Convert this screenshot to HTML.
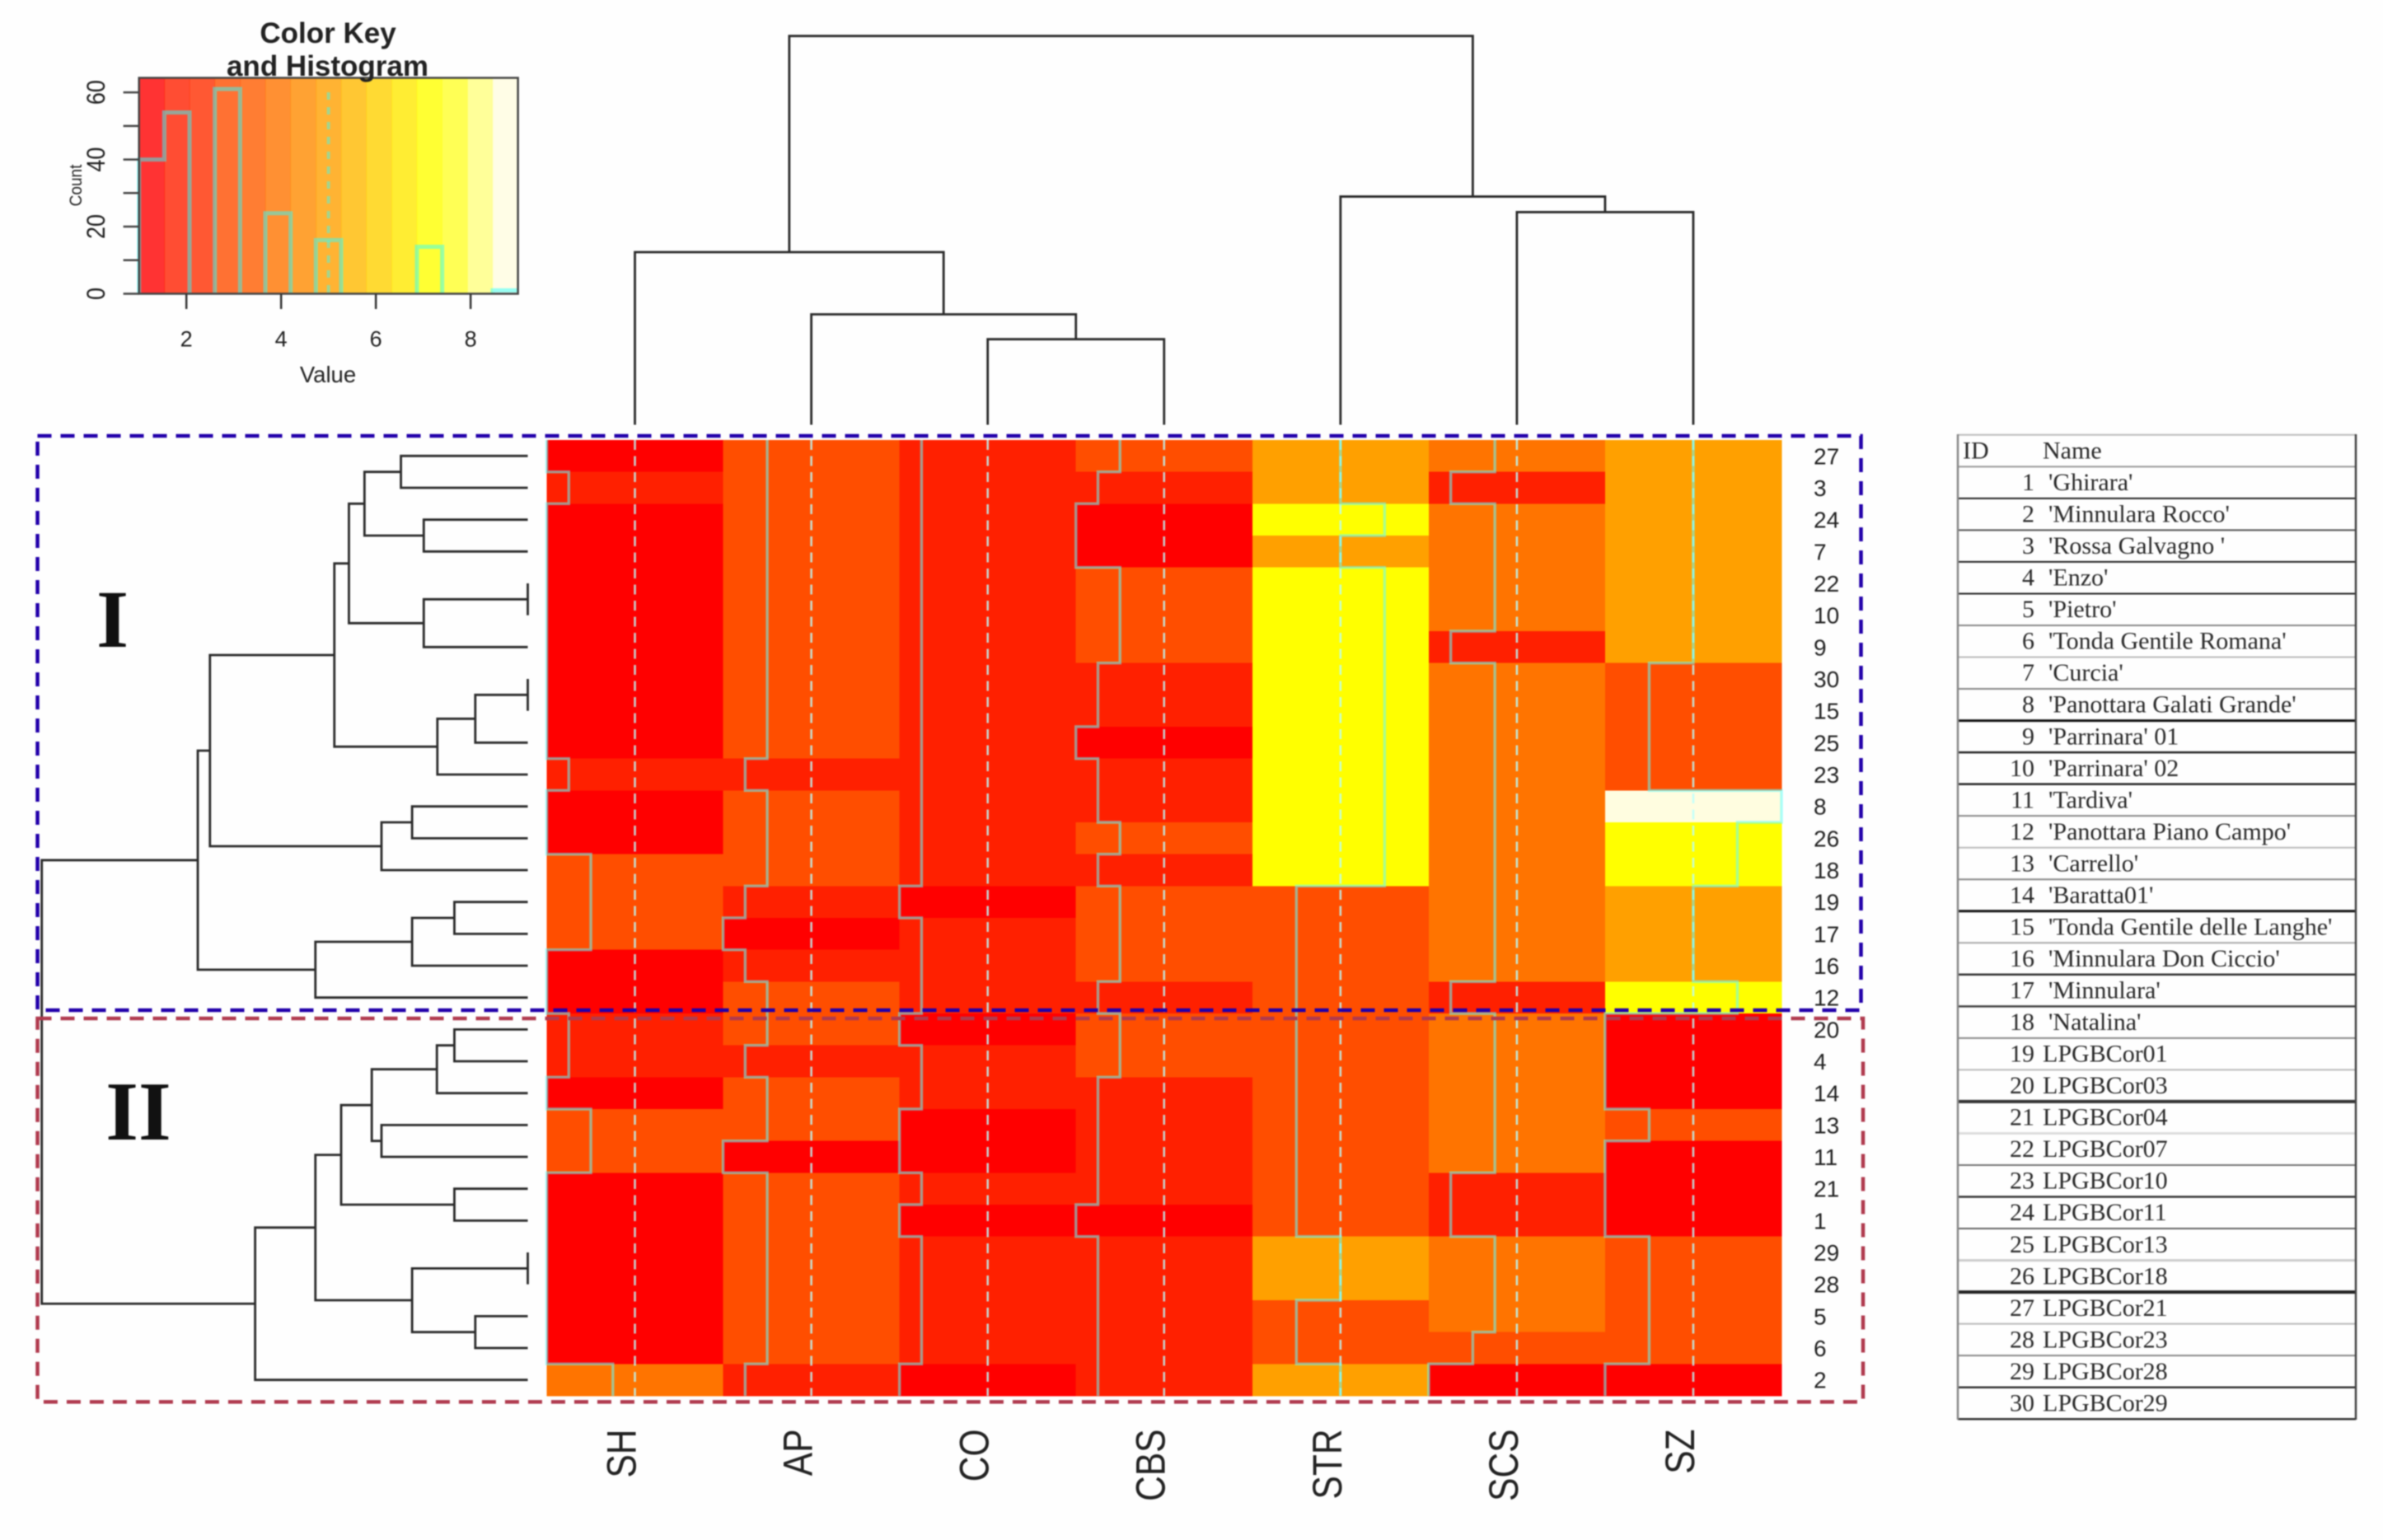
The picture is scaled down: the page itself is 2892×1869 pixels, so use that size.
<!DOCTYPE html>
<html lang="en">
<head>
<meta charset="utf-8">
<title>Heatmap with dendrograms</title>
<style>
html,body{margin:0;padding:0;background:#fefefe;width:2892px;height:1869px;overflow:hidden}
svg{position:absolute;left:0;top:0;filter:blur(0.8px)}
text{font-family:"Liberation Sans",sans-serif;fill:#222}
.tbl{font-family:"Liberation Serif",serif;font-size:30px;fill:#2a2a2a}
.tid{text-anchor:end}
</style>
</head>
<body>
<svg id="chart" width="2892" height="1869" viewBox="0 0 2892 1869" xmlns="http://www.w3.org/2000/svg">
<g id="key"></g>
<text x="398" y="52" text-anchor="middle" font-weight="700" font-size="35">Color Key</text>
<text x="397.5" y="92" text-anchor="middle" font-weight="700" font-size="35">and Histogram</text>
<text x="398" y="464" text-anchor="middle" font-size="27.5">Value</text>
<text transform="translate(99,225) rotate(-90) scale(1,1.1)" text-anchor="middle" font-size="19">Count</text>
<g id="colDendro"></g>
<g id="rowDendro"></g>
<g id="cells" shape-rendering="crispEdges"></g>
<g id="traces"></g>
<g id="rowLabels"></g>
<g id="colLabels"></g>
<rect x="45.5" y="1236" width="2215.5" height="465.4" fill="none" stroke="#b03a4e" stroke-width="4.5" stroke-dasharray="17 11"/>
<rect x="45.5" y="529" width="2213" height="697" fill="none" stroke="#2200aa" stroke-width="4.5" stroke-dasharray="17 11"/>
<text x="136.6" y="785" text-anchor="middle" font-size="100" font-weight="700" style="font-family:'Liberation Serif',serif;fill:#111">I</text>
<text x="168" y="1383" text-anchor="middle" font-size="102" font-weight="700" style="font-family:'Liberation Serif',serif;fill:#111">II</text>
<g id="tableLines"></g>
<g>
<text class="tbl" x="2382" y="556.5">ID</text>
<text class="tbl" x="2479" y="556.5">Name</text>
<text class="tbl tid" x="2469" y="595">1</text><text class="tbl" x="2486" y="595">'Ghirara'</text>
<text class="tbl tid" x="2469" y="633.6">2</text><text class="tbl" x="2486" y="633.6">'Minnulara Rocco'</text>
<text class="tbl tid" x="2469" y="672.1">3</text><text class="tbl" x="2486" y="672.1">'Rossa Galvagno '</text>
<text class="tbl tid" x="2469" y="710.6">4</text><text class="tbl" x="2486" y="710.6">'Enzo'</text>
<text class="tbl tid" x="2469" y="749.2">5</text><text class="tbl" x="2486" y="749.2">'Pietro'</text>
<text class="tbl tid" x="2469" y="787.7">6</text><text class="tbl" x="2486" y="787.7">'Tonda Gentile Romana'</text>
<text class="tbl tid" x="2469" y="826.2">7</text><text class="tbl" x="2486" y="826.2">'Curcia'</text>
<text class="tbl tid" x="2469" y="864.7">8</text><text class="tbl" x="2486" y="864.7">'Panottara Galati Grande'</text>
<text class="tbl tid" x="2469" y="903.3">9</text><text class="tbl" x="2486" y="903.3">'Parrinara' 01</text>
<text class="tbl tid" x="2469" y="941.8">10</text><text class="tbl" x="2486" y="941.8">'Parrinara' 02</text>
<text class="tbl tid" x="2469" y="980.3">11</text><text class="tbl" x="2486" y="980.3">'Tardiva'</text>
<text class="tbl tid" x="2469" y="1018.9">12</text><text class="tbl" x="2486" y="1018.9">'Panottara Piano Campo'</text>
<text class="tbl tid" x="2469" y="1057.4">13</text><text class="tbl" x="2486" y="1057.4">'Carrello'</text>
<text class="tbl tid" x="2469" y="1095.9">14</text><text class="tbl" x="2486" y="1095.9">'Baratta01'</text>
<text class="tbl tid" x="2469" y="1134.5">15</text><text class="tbl" x="2486" y="1134.5">'Tonda Gentile delle Langhe'</text>
<text class="tbl tid" x="2469" y="1173">16</text><text class="tbl" x="2486" y="1173">'Minnulara Don Ciccio'</text>
<text class="tbl tid" x="2469" y="1211.5">17</text><text class="tbl" x="2486" y="1211.5">'Minnulara'</text>
<text class="tbl tid" x="2469" y="1250">18</text><text class="tbl" x="2486" y="1250">'Natalina'</text>
<text class="tbl tid" x="2469" y="1288.6">19</text><text class="tbl" x="2479" y="1288.6">LPGBCor01</text>
<text class="tbl tid" x="2469" y="1327.1">20</text><text class="tbl" x="2479" y="1327.1">LPGBCor03</text>
<text class="tbl tid" x="2469" y="1365.6">21</text><text class="tbl" x="2479" y="1365.6">LPGBCor04</text>
<text class="tbl tid" x="2469" y="1404.2">22</text><text class="tbl" x="2479" y="1404.2">LPGBCor07</text>
<text class="tbl tid" x="2469" y="1442.7">23</text><text class="tbl" x="2479" y="1442.7">LPGBCor10</text>
<text class="tbl tid" x="2469" y="1481.2">24</text><text class="tbl" x="2479" y="1481.2">LPGBCor11</text>
<text class="tbl tid" x="2469" y="1519.8">25</text><text class="tbl" x="2479" y="1519.8">LPGBCor13</text>
<text class="tbl tid" x="2469" y="1558.3">26</text><text class="tbl" x="2479" y="1558.3">LPGBCor18</text>
<text class="tbl tid" x="2469" y="1596.8">27</text><text class="tbl" x="2479" y="1596.8">LPGBCor21</text>
<text class="tbl tid" x="2469" y="1635.3">28</text><text class="tbl" x="2479" y="1635.3">LPGBCor23</text>
<text class="tbl tid" x="2469" y="1673.9">29</text><text class="tbl" x="2479" y="1673.9">LPGBCor28</text>
<text class="tbl tid" x="2469" y="1712.4">30</text><text class="tbl" x="2479" y="1712.4">LPGBCor29</text>
</g>
</svg>
<script>
// ---- data ----
const columnNames = ['SH','AP','CO','CBS','STR','SCS','SZ'];
const rowNames = [27,3,24,7,22,10,9,30,15,25,23,8,26,18,19,17,16,12,20,4,14,13,11,21,1,29,28,5,6,2];
const valuesSH  = [1,2,1,1,1,1,1,1,1,1,2,1,1,3,3,3,1,1,2,2,1,3,3,1,1,1,1,1,1,4];
const valuesAP  = [3,3,3,3,3,3,3,3,3,3,2,3,3,3,2,1,2,3,3,2,3,3,1,3,3,3,3,3,3,2];
const valuesCO  = [2,2,2,2,2,2,2,2,2,2,2,2,2,2,1,2,2,2,1,2,2,1,1,2,1,2,2,2,2,1];
const valuesCBS = [3,2,1,1,3,3,3,2,2,1,2,2,3,2,3,3,3,2,3,3,2,2,2,2,1,2,2,2,2,2];
const valuesSTR = [5,5,7,5,7,7,7,7,7,7,7,7,7,7,3,3,3,3,3,3,3,3,3,3,3,5,5,3,3,5];
const valuesSCS = [4,2,4,4,4,4,2,4,4,4,4,4,4,4,4,4,4,2,4,4,4,4,4,2,2,4,4,4,3,1];
const valuesSZ  = [5,5,5,5,5,5,5,3,3,3,3,9,7,7,5,5,5,7,1,1,1,3,1,1,1,3,3,3,3,1];
const histCounts = [40,54,0,61,0,24,0,16,0,0,0,14,0,0,1];
const keyXTicks = [2,4,6,8];
const keyYTicks = [0,10,20,30,40,50,60];
const keyYLabels = [0,20,40,60];
const valueMin = 1;
const valueMax = 9;
const traceCenterValue = 5;
// Dendrogram merges: negative = leaf position, positive = earlier merge number
const colMergeLeft   = [-3,-2,-1,-6,-5,3];
const colMergeRight  = [-4,1,2,-7,4,5];
const colMergeHeight = [22.0,28.4,44.4,54.7,58.7,100];
const rowMergeLeft   = [-1,-3,1,-5,4,3,-8,7,8,6,-12,11,10,-15,14,15,13,-19,18,-22,19,-24,21,-26,-28,24,23,27,17];
const rowMergeRight  = [-2,-4,2,-6,-7,5,-9,-10,-11,9,-13,-14,12,-16,-17,-18,16,-20,-21,-23,20,-25,22,-27,-29,25,26,-30,28];
const rowMergeHeight = [26.1,21.4,33.6,0,21.4,36.8,0,10.8,18.6,39.8,23.8,30.1,65.4,15.1,23.8,43.7,67.9,15.1,18.7,30.1,32.1,15.1,38.4,0,10.8,23.8,43.7,56.1,100];

// ---- scales & helpers ----
const columnValues = [valuesSH,valuesAP,valuesCO,valuesCBS,valuesSTR,valuesSCS,valuesSZ];
const NS = 'http://www.w3.org/2000/svg';
const palette = ['#ff0000','#ff2000','#ff2e00','#ff4e00','#ff5d00','#ff7400','#ff8b00','#ffa000','#ffb900','#ffd100','#ffe800','#ffff00','#ffff2a','#ffff80','#fffde0'];
const hmLeft = 663.5, hmTop = 534, colW = 214.07, rowH = 38.667;
const colX = i => hmLeft + colW * i;
const colC = i => colX(i) + colW / 2;
const rowY = i => hmTop + rowH * i;
const rowC = i => rowY(i) + rowH / 2;
const scale01 = v => (v - valueMin) / (valueMax - valueMin);
const band = v => Math.min(palette.length - 1, Math.floor(scale01(v) * palette.length));
const keyX = v => 168.7 + (v - valueMin) * 57.49;
const keyY = c => 356.5 - c * 4.073;
const colDendroY = h => 515.5 - h * 4.718;
const rowDendroX = h => 640.5 - h * 5.898;
function make(tag, attrs, parent, txt) {
  const el = document.createElementNS(NS, tag);
  for (const k in attrs) el.setAttribute(k, attrs[k]);
  if (txt !== undefined) el.textContent = txt;
  parent.appendChild(el);
  return el;
}
const $ = id => document.getElementById(id);

// ---- colour key ----
const keyG = $('key');
palette.forEach((c, k) => {
  const w = (valueMax - valueMin) / palette.length;
  const r = make('rect', {x: keyX(valueMin + k * w), y: 94.5, width: keyX(valueMin + (k + 1) * w) - keyX(valueMin + k * w) + 0.5, height: 262, fill: c, 'fill-opacity': 0.8, 'shape-rendering': 'crispEdges'}, keyG);
  
  
});
let hd = '';
let penDown = false;
histCounts.forEach((c, k) => {
  const w = (valueMax - valueMin) / histCounts.length;
  const x0 = keyX(valueMin + k * w), x1 = keyX(valueMin + (k + 1) * w), y = keyY(c);
  if (c > 0) {
    hd += (penDown ? 'L' : 'M') + x0 + ' ' + (penDown ? y : keyY(0)) + ' ';
    if (!penDown) hd += 'L' + x0 + ' ' + y + ' ';
    hd += 'L' + x1 + ' ' + y + ' ';
    penDown = true;
  } else if (penDown) {
    hd += 'L' + x0 + ' ' + y + ' ';
    penDown = false;
  }
});
const histLine = make('path', {d: hd, fill: 'none', stroke: '#30ffff', 'stroke-opacity': 0.5, 'stroke-width': 5}, keyG);


const keyMid = make('line', {x1: keyX(traceCenterValue), x2: keyX(traceCenterValue), y1: 112, y2: 356.5, stroke: '#30ffff', 'stroke-opacity': 0.45, 'stroke-width': 4, 'stroke-dasharray': '9 9'}, keyG);


const keyFrame = make('rect', {x: 168.7, y: 94.5, width: 459.9, height: 262, fill: 'none', stroke: '#444', 'stroke-width': 2.5}, keyG);


keyXTicks.forEach(v => {
  const t = make('line', {x1: keyX(v), x2: keyX(v), y1: 356.5, y2: 375, stroke: '#333', 'stroke-width': 2.5}, keyG);
  
  
  const l = make('text', {x: keyX(v), y: 420.5, 'text-anchor': 'middle', 'font-size': 27}, keyG, v);
  
  
});
keyYTicks.forEach(c => {
  const t = make('line', {x1: 149.6, x2: 168.7, y1: keyY(c), y2: keyY(c), stroke: '#444', 'stroke-width': 2.5}, keyG);
  
  
});
keyYLabels.forEach(c => {
  const l = make('text', {transform: 'translate(127,' + keyY(c) + ') rotate(-90) scale(1,1.15)', 'text-anchor': 'middle', 'font-size': 27}, keyG, c);
  
  
});

// ---- heatmap cells ----
columnValues.forEach((vals, c) => {
  vals.forEach((v, r) => {
    const cell = make('rect', {x: colX(c), y: rowY(r), width: colW + 0.5, height: rowH + 0.5, fill: palette[band(v)]}, $('cells'));
    
    
  });
});

// ---- traces ----
columnValues.forEach((vals, c) => {
  const cx = colX(c) + scale01(traceCenterValue) * colW;
  const mid = make('line', {x1: cx, x2: cx, y1: hmTop, y2: rowY(vals.length), stroke: '#b8ffff', 'stroke-opacity': 0.8, 'stroke-width': 2.6, 'stroke-dasharray': '12 7.5'}, $('traces'));
  
  
  let d = '';
  vals.forEach((v, r) => {
    const x = colX(c) + scale01(v) * colW;
    d += (r === 0 ? 'M' : 'L') + x + ' ' + rowY(r) + ' L' + x + ' ' + rowY(r + 1) + ' ';
  });
  const tr = make('path', {d: d, fill: 'none', stroke: '#60ffff', 'stroke-opacity': 0.55, 'stroke-width': 3.4}, $('traces'));
  
  
});

// ---- labels ----
rowNames.forEach((n, r) => {
  const l = make('text', {x: 2201, y: rowC(r) + 10, 'font-size': 28}, $('rowLabels'), n);
  
  
});
columnNames.forEach((n, c) => {
  const l = make('text', {transform: 'translate(' + (colC(c) + 1) + ',1734.5) rotate(-90) scale(1,1.18)', 'text-anchor': 'end', 'font-size': 42.5}, $('colLabels'), n);
  
  
});

// ---- dendrograms ----
function buildTree(left, right, height, leafPos, heightPos, horizontal, parent, nodeName) {
  const pos = [], lev = [];
  const resolve = id => id < 0 ? {p: leafPos(-id - 1), l: heightPos(0)} : {p: pos[id - 1], l: lev[id - 1]};
  left.forEach((a, i) => {
    const A = resolve(a), B = resolve(right[i]), L = heightPos(height[i]);
    pos[i] = (A.p + B.p) / 2;
    lev[i] = L;
    const d = horizontal
      ? 'M' + A.l + ' ' + A.p + ' L' + L + ' ' + A.p + ' L' + L + ' ' + B.p + ' L' + B.l + ' ' + B.p
      : 'M' + A.p + ' ' + A.l + ' L' + A.p + ' ' + L + ' L' + B.p + ' ' + L + ' L' + B.p + ' ' + B.l;
    const m = make('path', {d: d, fill: 'none', stroke: '#2a2a2a', 'stroke-width': 2.8}, parent);
    
    
  });
}
buildTree(colMergeLeft, colMergeRight, colMergeHeight, colC, colDendroY, false, $('colDendro'), 'column-dendrogram-merge');
buildTree(rowMergeLeft, rowMergeRight, rowMergeHeight, rowC, rowDendroX, true, $('rowDendro'), 'row-dendrogram-merge');

// ---- table rules ----
const tableRuleShades = ['#bbb','#999','#222','#555','#222','#222','#888','#bbb','#888','#111','#222','#222','#888','#bbb','#888','#111','#aaa','#333','#444','#888','#bbb','#333','#ddd','#777','#333','#666','#ccc','#222','#bbb','#888','#333','#333'];
const tableRuleWidths = [2,2,2,2,2,2,2,2,2,3,2.5,2.5,2,2,2,3,2,2.5,2.5,2,2,4,3,2,2.5,2,3,4,2,2,2.5,2.5];
tableRuleShades.forEach((c, i) => {
  const y = 527.8 + 38.53 * i;
  const ln = make('line', {x1: 2376, x2: 2859, y1: y, y2: y, stroke: c, 'stroke-width': tableRuleWidths[i]}, $('tableLines'));
  
  
});
const tableLeft = make('line', {x1: 2376, x2: 2376, y1: 527, y2: 1723, stroke: '#888', 'stroke-width': 2.5}, $('tableLines'));


const tableRight = make('line', {x1: 2859, x2: 2859, y1: 527, y2: 1723, stroke: '#444', 'stroke-width': 2.5}, $('tableLines'));


</script>
</body>
</html>
